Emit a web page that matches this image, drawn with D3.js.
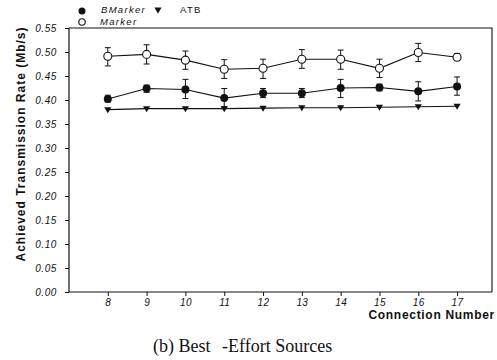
<!DOCTYPE html>
<html>
<head>
<meta charset="utf-8">
<script src="https://cdn.jsdelivr.net/npm/d3@7"></script>
<style>
  html, body { margin: 0; padding: 0; background: #fff; }
  svg { display: block; }
  text { fill: #111; }
</style>
</head>
<body>
<svg id="chart" width="497" height="360"></svg>
<script>
// Connection counts on the x axis
const connections = [8, 9, 10, 11, 12, 13, 14, 15, 16, 17];

// Marker (open circles): mean rate and error range
const markerMean = [0.491, 0.495, 0.483, 0.464, 0.466, 0.485, 0.485, 0.466, 0.499, 0.489];
const markerLow  = [0.471, 0.475, 0.464, 0.445, 0.445, 0.466, 0.464, 0.447, 0.480, 0.483];
const markerHigh = [0.509, 0.515, 0.502, 0.484, 0.485, 0.505, 0.504, 0.485, 0.518, 0.497];

// BMarker (filled circles)
const bmarkerMean = [0.402, 0.424, 0.422, 0.404, 0.414, 0.414, 0.425, 0.426, 0.418, 0.428];
const bmarkerLow  = [0.396, 0.416, 0.403, 0.386, 0.405, 0.405, 0.405, 0.419, 0.398, 0.410];
const bmarkerHigh = [0.410, 0.431, 0.443, 0.424, 0.424, 0.424, 0.443, 0.433, 0.438, 0.448];

// ATB (filled down triangles)
const atbMean = [0.380, 0.382, 0.382, 0.382, 0.383, 0.384, 0.384, 0.385, 0.386, 0.387];

const yTicks = [0.00, 0.05, 0.10, 0.15, 0.20, 0.25, 0.30, 0.35, 0.40, 0.45, 0.50, 0.55];

const svg = d3.select("#chart");
const plotLeft = 69, plotRight = 492, plotTop = 28, plotBottom = 292;

const x = d3.scaleLinear().domain([7, 17.9]).range([plotLeft, plotRight]);
const y = d3.scaleLinear().domain([0, 0.55]).range([plotBottom, plotTop]);

const ink = "#111";

// Frame: top and right borders
svg.append("path")
  .attr("d", `M${plotLeft},${plotTop} L${plotRight},${plotTop} L${plotRight},${plotBottom}`)
  .attr("fill", "none").attr("stroke", ink).attr("stroke-width", 1.1);

// Y axis
const yAxis = svg.append("g")
  .attr("transform", `translate(${plotLeft},0)`)
  .call(d3.axisLeft(y).tickValues(yTicks).tickSize(4).tickPadding(8)
    .tickFormat(d3.format(".2f")));
yAxis.select(".domain").attr("stroke", ink).attr("stroke-width", 1.2)
  .attr("d", `M0,${plotTop}V${plotBottom}`);
yAxis.selectAll(".tick line").attr("stroke", ink);
yAxis.selectAll(".tick text")
  .attr("font-family", "Liberation Sans, Arial, sans-serif")
  .attr("font-style", "italic").attr("font-size", 10)
  .attr("letter-spacing", 0.6).attr("fill", ink);

// X axis
const xAxis = svg.append("g")
  .attr("transform", `translate(0,${plotBottom})`)
  .call(d3.axisBottom(x).tickValues(connections).tickSize(4).tickPadding(3)
    .tickFormat(d3.format("d")));
xAxis.select(".domain").attr("stroke", ink).attr("stroke-width", 1.2)
  .attr("d", `M${plotLeft},0H${plotRight}`);
xAxis.selectAll(".tick line").attr("stroke", ink);
xAxis.selectAll(".tick text")
  .attr("font-family", "Liberation Sans, Arial, sans-serif")
  .attr("font-style", "italic").attr("font-size", 10)
  .attr("letter-spacing", 0.4).attr("fill", ink);

// Axis titles
svg.append("text")
  .attr("transform", "translate(25,144) rotate(-90)")
  .attr("text-anchor", "middle")
  .attr("font-family", "Liberation Sans, Arial, sans-serif")
  .attr("font-weight", "bold").attr("font-size", 12).attr("letter-spacing", 1)
  .text("Achieved Transmission Rate (Mb/s)");

svg.append("text")
  .attr("x", 495).attr("y", 319)
  .attr("text-anchor", "end")
  .attr("font-family", "Liberation Sans, Arial, sans-serif")
  .attr("font-weight", "bold").attr("font-size", 12).attr("letter-spacing", 0.7)
  .text("Connection Number");

// Caption
const caption = svg.append("text")
  .attr("y", 352)
  .attr("font-family", "Liberation Serif, Times New Roman, serif")
  .attr("font-size", 18);
caption.append("tspan").attr("x", 153).text("(b) Best");
caption.append("tspan").attr("x", 222).text("-Effort Sources");

// Series drawing helpers
const line = d3.line().x(d => x(d[0])).y(d => y(d[1]));
const plot = svg.append("g");

function drawErrorBars(lo, hi) {
  const g = plot.append("g").attr("stroke", ink).attr("stroke-width", 1);
  connections.forEach((c, i) => {
    const cx = x(c);
    g.append("line").attr("x1", cx).attr("x2", cx).attr("y1", y(lo[i])).attr("y2", y(hi[i]));
    g.append("line").attr("x1", cx - 3).attr("x2", cx + 3).attr("y1", y(lo[i])).attr("y2", y(lo[i]));
    g.append("line").attr("x1", cx - 3).attr("x2", cx + 3).attr("y1", y(hi[i])).attr("y2", y(hi[i]));
  });
}

function drawLine(vals) {
  plot.append("path")
    .datum(connections.map((c, i) => [c, vals[i]]))
    .attr("d", line).attr("fill", "none").attr("stroke", ink).attr("stroke-width", 1.1);
}

// ATB
drawLine(atbMean);
plot.append("g").selectAll("path").data(connections).join("path")
  .attr("transform", (c, i) => `translate(${x(c)},${y(atbMean[i])})`)
  .attr("d", "M-3.6,-2.4 L3.6,-2.4 L0,3.6 Z")
  .attr("fill", ink);

// BMarker
drawErrorBars(bmarkerLow, bmarkerHigh);
drawLine(bmarkerMean);
plot.append("g").selectAll("circle").data(connections).join("circle")
  .attr("cx", c => x(c)).attr("cy", (c, i) => y(bmarkerMean[i]))
  .attr("r", 4).attr("fill", ink);

// Marker
drawErrorBars(markerLow, markerHigh);
drawLine(markerMean);
plot.append("g").selectAll("circle").data(connections).join("circle")
  .attr("cx", c => x(c)).attr("cy", (c, i) => y(markerMean[i]))
  .attr("r", 4).attr("fill", "#fff").attr("stroke", ink).attr("stroke-width", 1.1);

// Legend
const legend = svg.append("g")
  .attr("font-family", "Liberation Sans, Arial, sans-serif")
  .attr("font-style", "italic").attr("font-size", 9.5).attr("letter-spacing", 1.3);
legend.append("circle").attr("cx", 82).attr("cy", 11).attr("r", 3.5).attr("fill", ink);
legend.append("text").attr("x", 101).attr("y", 13).text("BMarker");
legend.append("path").attr("transform", "translate(158,10)")
  .attr("d", "M-3.6,-2.4 L3.6,-2.4 L0,3.6 Z").attr("fill", ink);
legend.append("text").attr("x", 180).attr("y", 12.5).attr("font-style", "normal").text("ATB");
legend.append("circle").attr("cx", 82).attr("cy", 22).attr("r", 3.2)
  .attr("fill", "#fff").attr("stroke", ink).attr("stroke-width", 1.1);
legend.append("text").attr("x", 100).attr("y", 25).text("Marker");
</script>
</body>
</html>
